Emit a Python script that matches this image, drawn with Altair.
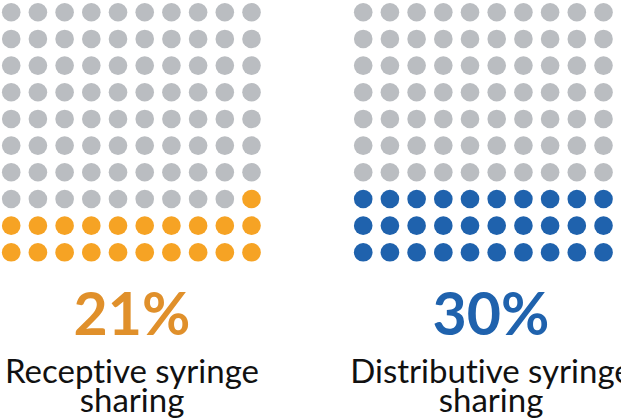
import altair as alt
import pandas as pd

# ---- data ----
panel_names = ["Receptive syringe sharing", "Distributive syringe sharing"]
percents = [21, 30]
pct_labels = ["21%", "30%"]
label_first = ["Recept\u200cive syringe", "Distribut\u200cive syringe"]
label_second = ["sharing", "sharing"]
fill_colors = ["#F6A324", "#1F62AD"]
pct_colors = ["#E0902B", "#1F62AD"]
grey = "#BABDC1"
n_cols = 10
n_rows = 10

STEP = 26.7
W = 621
H = 419
PANEL_SHIFT = 352 / STEP  # horizontal offset of second grid, in grid units
TEXT_X = [132, 491]

rows = []
for i in range(2):
    for r in range(n_rows):
        for c in range(n_cols):
            k = (n_rows - 1 - r) * n_cols + (n_cols - 1 - c)
            rows.append({
                "x": c + i * PANEL_SHIFT,
                "row": r,
                "cls": panel_names[i] if k < percents[i] else "rest",
            })
df = pd.DataFrame(rows)

xs = alt.Scale(domain=[-0.42, -0.42 + W / STEP], nice=False, zero=False)
ys = alt.Scale(domain=[-0.46 + H / 26.67, -0.46], nice=False, zero=False)

dots = alt.Chart(df).mark_circle(size=346, opacity=1).encode(
    x=alt.X("x:Q", scale=xs, axis=None),
    y=alt.Y("row:Q", scale=ys, axis=None),
    color=alt.Color("cls:N", scale=alt.Scale(domain=panel_names + ["rest"], range=fill_colors + [grey]), legend=None),
)

layers = [dots]
for i in range(2):
    layers.append(alt.Chart(pd.DataFrame({"t": [pct_labels[i]]})).mark_text(
        font="Lato", fontWeight="bold", fontSize=59, color=pct_colors[i], align="center", baseline="alphabetic"
    ).encode(text="t:N", x=alt.value(TEXT_X[i]), y=alt.value(335)))
    layers.append(alt.Chart(pd.DataFrame({"t": [label_first[i]], "u": [label_second[i]]})).transform_calculate(
        lines="[datum.t, datum.u]"
    ).mark_text(
        font="Lato", fontSize=33, color="#111111", align="center", baseline="alphabetic", lineHeight=28.5
    ).encode(text="lines:N", x=alt.value(TEXT_X[i]), y=alt.value(383)))

chart = alt.layer(*layers).properties(
    width=W, height=H, padding=0, autosize=alt.AutoSizeParams(type="none")
).configure(background="white").configure_view(stroke=None)

chart.save("out.html", embed_options={"renderer": "svg", "actions": False})
